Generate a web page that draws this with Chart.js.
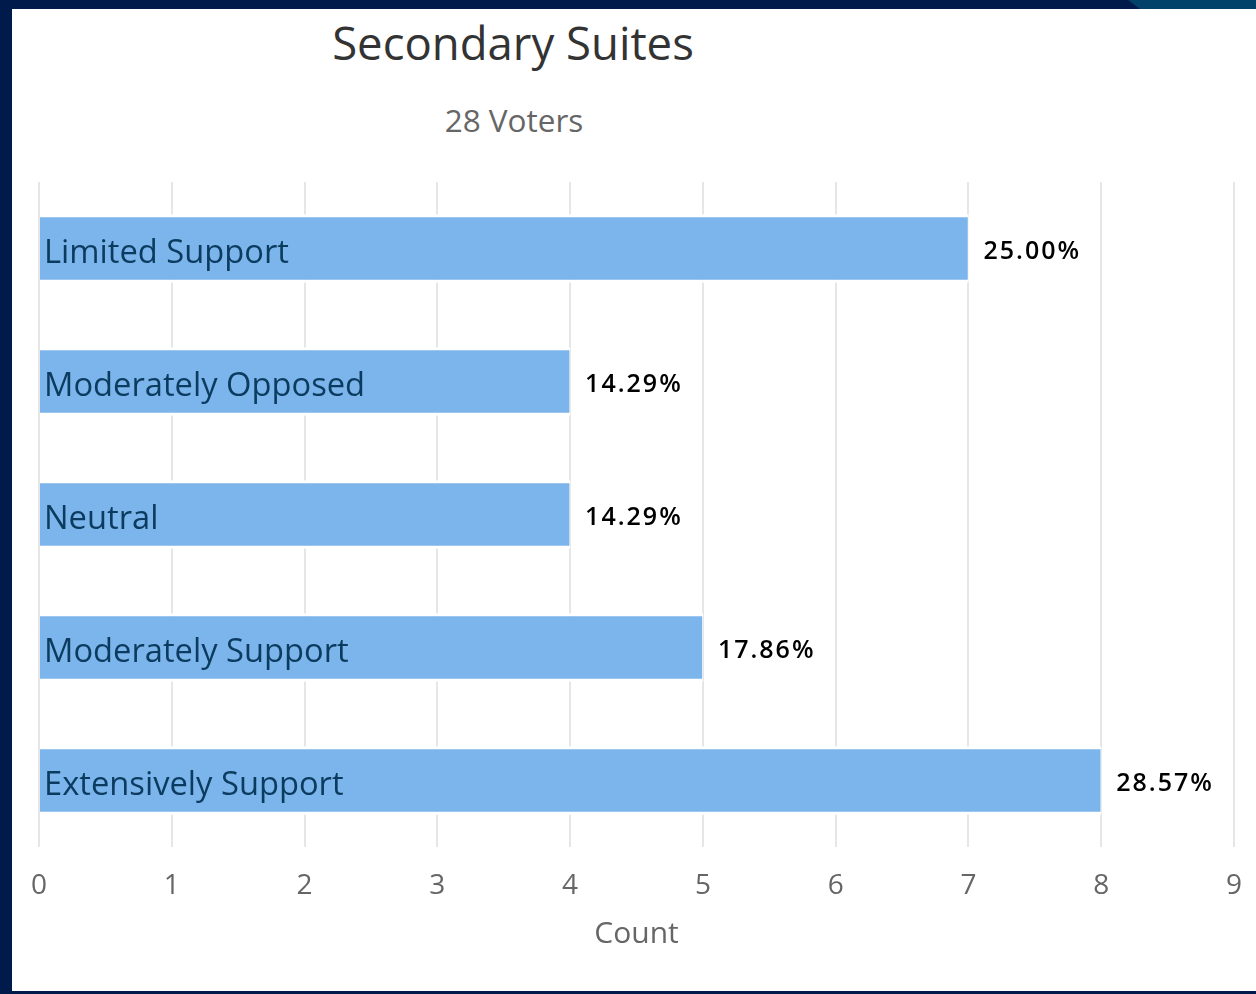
<!DOCTYPE html>
<html><head><meta charset="utf-8">
<script src="https://cdn.jsdelivr.net/npm/chart.js@4.4.1/dist/chart.umd.min.js"></script>
<style>
html,body{margin:0;padding:0;background:#001a4b;width:1256px;height:994px;overflow:hidden;font-family:"Open Sans",sans-serif}
#corner{position:absolute;left:1128px;top:0;width:128px;height:9px;background:#00426a;clip-path:polygon(0 0,100% 0,100% 100%,12px 100%)}
#panel{position:absolute;left:12px;top:9px;width:1244px;height:982px;background:#fff}
#title{position:absolute;top:20px;left:213px;width:600px;text-align:center;font-size:45.5px;line-height:1;color:#333;white-space:nowrap}
#subtitle{position:absolute;top:104px;left:314px;width:400px;text-align:center;font-size:31.5px;line-height:1;color:#666;white-space:nowrap}
#wrap{position:absolute;left:0;top:0;width:1256px;height:994px}
</style>
</head><body>
<div id="corner"></div>
<div id="panel"></div>
<div id="title">Secondary Suites</div>
<div id="subtitle">28 Voters</div>
<div id="wrap"><canvas id="c" width="1256" height="994"></canvas></div>
<script>
const categories = ["Limited Support", "Moderately Opposed", "Neutral", "Moderately Support", "Extensively Support"];
const counts = [7, 4, 4, 5, 8];
const percentLabels = ["25.00%", "14.29%", "14.29%", "17.86%", "28.57%"];
const xTickValues = [0, 1, 2, 3, 4, 5, 6, 7, 8, 9];
const axisTitle = "Count";

const labelPlugin = {
  id: 'barLabels',
  afterDatasetsDraw(chart) {
    const ctx = chart.ctx;
    const meta = chart.getDatasetMeta(0);
    ctx.save();
    meta.data.forEach((bar, i) => {
      ctx.textAlign = 'left';
      ctx.textBaseline = 'middle';
      // category label inside the bar
      ctx.letterSpacing = '0px';
      ctx.font = '32.7px "Open Sans"';
      ctx.fillStyle = '#0b3b5e';
      ctx.fillText(categories[i], chart.chartArea.left + 5, bar.y + 5);
      // value label to the right of the bar
      ctx.letterSpacing = '2px';
      ctx.font = '600 25px "Open Sans"';
      ctx.fillStyle = '#000';
      ctx.fillText(percentLabels[i], bar.x + 15, bar.y + 3);
    });
    ctx.restore();
  }
};

new Chart(document.getElementById('c'), {
  type: 'bar',
  data: {
    labels: categories,
    datasets: [{
      data: counts,
      backgroundColor: '#7cb5ec',
      borderColor: '#ffffff',
      borderWidth: {top: 3, bottom: 3, right: 1, left: 0},
      borderSkipped: false,
      barThickness: 68
    }]
  },
  options: {
    indexAxis: 'y',
    responsive: false,
    animation: false,
    layout: {padding: {left: 39, right: 22, top: 182, bottom: 0}},
    plugins: {legend: {display: false}, tooltip: {enabled: false}, title: {display: false}},
    scales: {
      y: {display: false},
      x: {
        min: 0, max: 9,
        afterBuildTicks(scale) { scale.ticks = xTickValues.map(v => ({value: v})); },
        afterFit(scale) { scale.height = 147; scale.paddingLeft = 0; scale.paddingRight = 0; },
        grid: {color: '#e6e6e6', lineWidth: 2, drawTicks: false},
        border: {display: false},
        ticks: {color: '#666', font: {family: '"Open Sans"', size: 28}, padding: 22},
        title: {display: true, text: axisTitle, color: '#666', font: {family: '"Open Sans"', size: 30}, padding: {top: 0, bottom: 42}}
      }
    }
  },
  plugins: [labelPlugin]
});
</script>
</body></html>
